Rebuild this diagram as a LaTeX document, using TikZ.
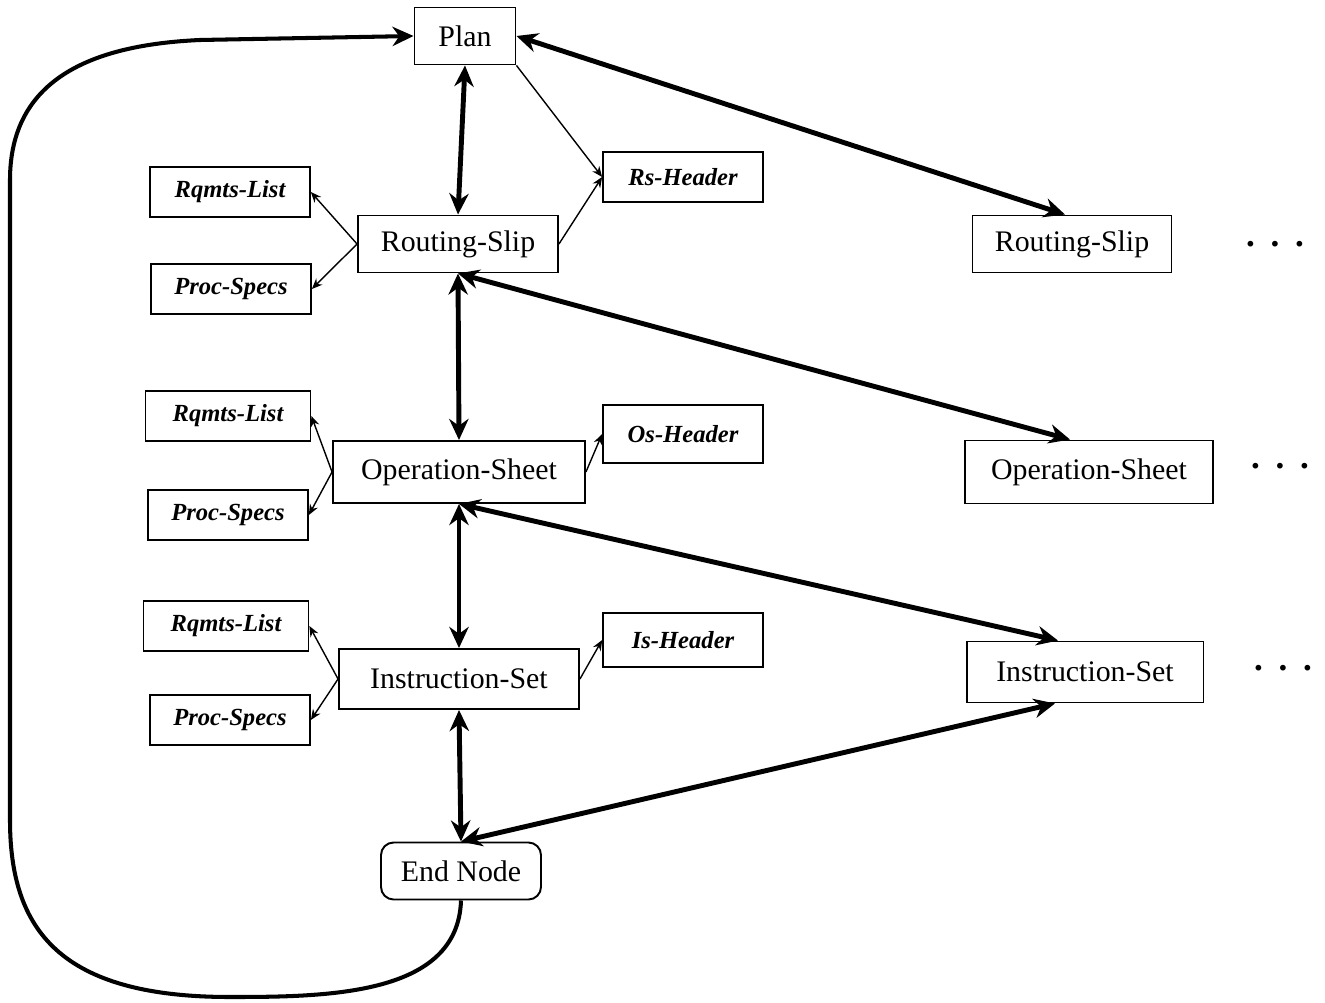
\documentclass[tikz,border=0pt]{standalone}
\usepackage{fontspec}
\setmainfont{Liberation Serif}
\usetikzlibrary{arrows.meta}

\begin{document}
\begin{tikzpicture}[x=0.02cm,y=-0.02cm,
  item/.style={draw,line width=1.1pt,font=\fontsize{17}{20}\selectfont,minimum height=1.14cm,inner sep=2pt},
  part/.style={draw,line width=1pt,font=\fontsize{14}{16}\selectfont\bfseries\itshape,minimum width=3.2cm,minimum height=1cm},
  link/.style={line width=2.8pt,{Stealth[length=12pt,width=11pt]}-{Stealth[length=12pt,width=11pt]}},
  ref/.style={line width=0.8pt,-{Stealth[length=6pt,width=5pt]}},
  loopback/.style={line width=2.3pt,-{Stealth[length=12pt,width=11pt]}},
  more/.style={font=\fontsize{20}{20}\selectfont\bfseries}]
\useasboundingbox (0,0) rectangle (1325,1003);

% main column
\node[item,minimum width=2.02cm] (plan) at (465,36) {Plan};
\node[item,minimum width=4cm] (rs) at (458,244) {Routing-Slip};
\node[item,minimum width=5.04cm,minimum height=1.24cm] (os) at (459,472) {Operation-Sheet};
\node[item,minimum width=4.8cm,minimum height=1.2cm] (is) at (459,679) {Instruction-Set};
\node[item,minimum width=3.2cm,rounded corners=0.25cm] (endn) at (461,871) {End Node};

% parts
\node[part] (rsh) at (683,177) {Rs-Header};
\node[part] (rq1) at (230,192) {Rqmts-List};
\node[part] (ps1) at (231,289) {Proc-Specs};
\node[part,minimum height=1.16cm] (osh) at (683,434) {Os-Header};
\node[part,minimum width=3.3cm] (rq2) at (228,416) {Rqmts-List};
\node[part] (ps2) at (228,515) {Proc-Specs};
\node[part,minimum height=1.08cm] (ish) at (683,640) {Is-Header};
\node[part,minimum width=3.3cm] (rq3) at (226,626) {Rqmts-List};
\node[part] (ps3) at (230,720) {Proc-Specs};

% right column
\node[item,minimum width=3.98cm] (rsR) at (1072,244) {Routing-Slip};
\node[item,minimum width=4.96cm,minimum height=1.26cm] (osR) at (1089,472) {Operation-Sheet};
\node[item,minimum width=4.74cm,minimum height=1.22cm] (isR) at (1085,672) {Instruction-Set};
\node[more] (d1) at (1275,244) {.\hspace{9pt}.\hspace{9pt}.};
\node[more] (d2) at (1280,466) {.\hspace{9pt}.\hspace{9pt}.};
\node[more] (d3) at (1283,668) {.\hspace{9pt}.\hspace{9pt}.};

% thick links
\draw[link] (plan.south) -- (rs.north);
\draw[link] (plan.east) -- ([xshift=-0.14cm]rsR.north);
\draw[link] (rs.south) -- (os.north);
\draw[link] (rs.south) -- ([xshift=-0.38cm]osR.north);
\draw[link] (os.south) -- (is.north);
\draw[link] (os.south) -- ([xshift=-0.54cm]isR.north);
\draw[link] (is.south) -- (endn.north);
\draw[link] (endn.north) -- ([xshift=-0.6cm]isR.south);

% thin links
\draw[ref] (plan.south east) -- (rsh.west);
\draw[ref] (rs.east) -- (rsh.west);
\draw[ref] (rs.west) -- (rq1.east);
\draw[ref] (rs.west) -- (ps1.east);
\draw[ref] (os.west) -- (rq2.east);
\draw[ref] (os.west) -- (ps2.east);
\draw[ref] (os.east) -- (osh.west);
\draw[ref] (is.west) -- (rq3.east);
\draw[ref] (is.west) -- (ps3.east);
\draw[ref] (is.east) -- (ish.west);

% loop back to plan
\draw[loopback] (endn.south) .. controls (458,995) and (330,997) .. (230,997)
  .. controls (60,997) and (10,930) .. (10,820) -- (10,180)
  .. controls (10,80) and (90,45) .. (200,40) -- (plan.west);
\end{tikzpicture}
\end{document}
